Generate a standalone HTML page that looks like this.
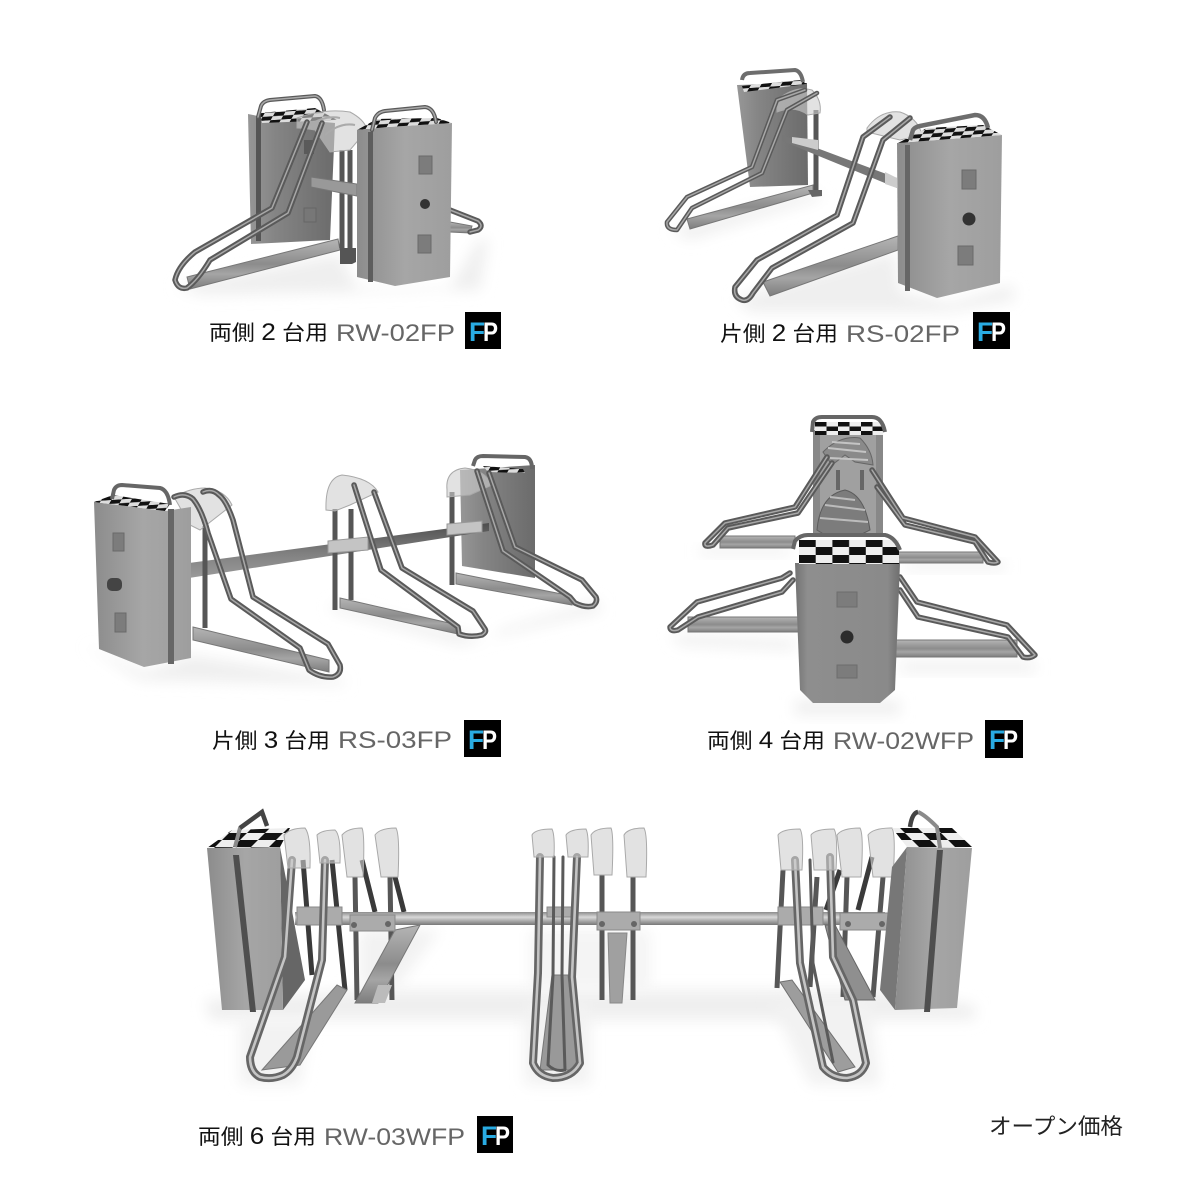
<!DOCTYPE html>
<html lang="ja"><head><meta charset="utf-8"><title>Bicycle racks</title>
<style>
html,body{margin:0;padding:0;background:#fff}
svg{display:block}
.o{fill:none;stroke:#5a5a5a;stroke-width:5.5;stroke-linejoin:round;stroke-linecap:round}
.i{fill:none;stroke:#a8a8a8;stroke-width:1.5;stroke-linejoin:round;stroke-linecap:round}
.o2{fill:none;stroke:#666;stroke-width:8;stroke-linejoin:round;stroke-linecap:round}
.i2{fill:none;stroke:#c4c4c4;stroke-width:2.6;stroke-linejoin:round;stroke-linecap:round}
.jp{font-family:"Liberation Sans","Noto Sans CJK JP",sans-serif;font-size:21px;fill:#111}
.jp tspan{font-size:24px}
.md{font-family:"Liberation Sans",sans-serif;font-size:24px;fill:#666}
.f{font-family:"Liberation Sans",sans-serif;font-size:27px;font-weight:bold;fill:#29abe2}
.p{font-family:"Liberation Sans",sans-serif;font-size:27px;font-weight:bold;fill:#fff}
.cap{fill:#cfcfcf;fill-opacity:.6;stroke:#a9a9a9;stroke-width:1}
.post{stroke:#565656;stroke-width:5;fill:none}
.dark{stroke:#3a3a3a;stroke-width:5;fill:none}
.rail{fill:url(#rg);stroke:#777;stroke-width:1}
.clamp{fill:#ababab;stroke:#8a8a8a;stroke-width:1}
.hole{fill:#7c7c7c;stroke:#6a6a6a}
.sh{fill:#efefef;filter:url(#b)}
</style></head><body>
<svg xmlns="http://www.w3.org/2000/svg" width="1200" height="1200" viewBox="0 0 1200 1200">
<defs>
<filter id="b" x="-30%" y="-60%" width="160%" height="220%"><feGaussianBlur stdDeviation="7"/></filter>
<linearGradient id="rg" x1="0" x2="0" y1="0" y2="1"><stop offset="0" stop-color="#b5b5b5"/><stop offset=".5" stop-color="#8c8c8c"/><stop offset=".7" stop-color="#a5a5a5"/><stop offset="1" stop-color="#7d7d7d"/></linearGradient>
<pattern id="c1" width="20" height="8" patternUnits="userSpaceOnUse" patternTransform="skewX(-30) skewY(-4)"><rect width="20" height="8" fill="#ddd"/><rect width="10" height="4" fill="#111"/><rect x="10" y="4" width="10" height="4" fill="#111"/></pattern>
<pattern id="c2" width="33.4" height="16" patternUnits="userSpaceOnUse" patternTransform="translate(799 539)"><rect width="33.4" height="16" fill="#eee"/><rect width="16.7" height="8" fill="#111"/><rect x="16.7" y="8" width="16.7" height="8" fill="#111"/></pattern>
<pattern id="c3" width="23" height="9" patternUnits="userSpaceOnUse" patternTransform="translate(815 422)"><rect width="23" height="9" fill="#eee"/><rect width="11.5" height="4.5" fill="#111"/><rect x="11.5" y="4.5" width="11.5" height="4.5" fill="#111"/></pattern>
<pattern id="c4" width="36" height="14" patternUnits="userSpaceOnUse" patternTransform="skewX(-45)"><rect width="36" height="14" fill="#eee"/><rect width="18" height="7" fill="#111"/><rect x="18" y="7" width="18" height="7" fill="#111"/></pattern>
<pattern id="c5" width="36" height="14" patternUnits="userSpaceOnUse" patternTransform="skewX(45)"><rect width="36" height="14" fill="#eee"/><rect width="18" height="7" fill="#111"/><rect x="18" y="7" width="18" height="7" fill="#111"/></pattern>
<linearGradient id="g1" x1="0" x2="1" y1="0" y2="0"><stop offset="0" stop-color="#979797"/><stop offset=".3" stop-color="#858585"/><stop offset="1" stop-color="#6b6b6b"/></linearGradient>
<linearGradient id="g2" x1="0" x2="1" y1="0" y2="0"><stop offset="0" stop-color="#8c8c8c"/><stop offset=".5" stop-color="#a6a6a6"/><stop offset="1" stop-color="#9e9e9e"/></linearGradient>
<linearGradient id="g3" x1="0" x2="1" y1="0" y2="0"><stop offset="0" stop-color="#737373"/><stop offset=".12" stop-color="#8e8e8e"/><stop offset=".88" stop-color="#8a8a8a"/><stop offset="1" stop-color="#6e6e6e"/></linearGradient>
<linearGradient id="ax" x1="0" x2="0" y1="0" y2="1"><stop offset="0" stop-color="#8d8d8d"/><stop offset=".4" stop-color="#d8d8d8"/><stop offset="1" stop-color="#777"/></linearGradient>
<linearGradient id="ax2" x1="0" x2="0" y1="0" y2="1"><stop offset="0" stop-color="#4e4e4e"/><stop offset=".55" stop-color="#808080"/><stop offset="1" stop-color="#9a9a9a"/></linearGradient>

<path id="h1a" d="M307 122L272 208L195 252Q178 266 175 280Q178 290 187 288Q198 280 210 260L288 213L322 123"/>
<path id="h1b" d="M450 210L478 221Q484 226 478 230L470 232"/>
<path id="h1h" d="M258 117L261 106Q263 101 270 100L315 96Q322 97 324 110"/>
<path id="h1k" d="M372 130L375 118Q378 112 385 111L425 107Q434 108 436 122"/>
<path id="h2a" d="M910 118L883 140L853 223L772 268L753 293Q748 302 742 300Q733 297 735 287L757 260L837 215L863 137L890 117"/>
<path id="h2b" d="M805 90L777 100L752 167L687 197L667 222Q666 230 677 230L692 208L762 173L787 110L817 93"/>
<path id="h3a" d="M174 497Q185 492 193 499Q202 510 208 533L231 599L300 648L309 670Q320 678 333 677Q342 674 340 665L328 644L253 597L233 520Q226 500 219 495Q212 488 203 492"/>
<path id="h3b" d="M354 485L381 570L458 627L459 634Q470 638 482 635Q487 632 485 629L473 611L402 568L374 492"/>
<path id="h3c" d="M477 471L503 551L570 597L575 603Q585 608 593 606Q598 602 596 597L582 580L515 547L489 473"/>
<path id="h4a" d="M827 457L795 507L725 523L705 543Q704 548 713 545L728 528L798 513L832 463"/>
<path id="h4b" d="M872 470L903 518L975 537L998 562Q995 564 988 562L975 542L905 525L877 487"/>
<path id="h4c" d="M790 573L782 578L697 602L670 627Q670 632 678 630L698 617L782 592L793 580"/>
<path id="h4d" d="M900 577L917 602L1007 625L1035 655Q1030 659 1023 657L1008 637L918 617L900 590"/>
<path id="h5a" d="M292 860L285 957L250 1057Q250 1072 260 1077Q272 1080 283 1075Q292 1070 297 1057L322 960L325 860"/>
<path id="h5b" d="M540 857L538 973L533 1063Q538 1076 553 1078Q572 1078 580 1063L572 977L577 857"/>
<path id="h5c" d="M554 857L553 975L548 1065Q555 1072 565 1070L562 975L563 857"/>
<path id="h5d" d="M795 860L800 963L823 1067Q832 1078 847 1078Q862 1076 866 1063L853 1000L833 957L830 857"/>
<path id="h5e" d="M810 860L813 963L833 1062"/>
</defs>
<rect width="1200" height="1200" fill="#fff"/>

<!-- PANEL 1 -->
<path class="sh" d="M175 286L340 254L357 288L450 288L480 238L488 240L480 290L200 295Z"/>
<path d="M450 222L472 226L470 233L450 232Z" class="rail"/>
<use href="#h1b" class="o"/><use href="#h1b" class="i"/>
<path d="M248 114L258 116L335 123L330 240L251 244Z" fill="url(#g1)"/>
<rect x="256" y="116" width="5" height="125" fill="#555"/>
<rect x="304" y="140" width="10" height="14" fill="#5a5a5a"/><rect x="304" y="208" width="12" height="14" fill="#777" stroke="#666"/>
<path d="M260 113L315 108L337 120L262 123Z" fill="url(#c1)"/>
<use href="#h1h" class="o" style="stroke-width:4"/><use href="#h1h" class="i"/>
<path d="M187 277L338 239L340 250L190 289Z" class="rail"/>
<path class="post" d="M342 150V248M350 150V248"/>
<path d="M340 248H356V262L352 264H340Z" fill="#555"/>
<path d="M311 177L357 184V196L311 187Z" fill="#999" stroke="#777"/>
<path class="cap" d="M297 118Q325 108 350 112Q365 120 367 130L350 150L330 152L315 130Q303 128 297 128Z"/>
<path d="M310 125Q325 115 340 118M325 135Q340 122 355 125" fill="none" stroke="#aaa" stroke-width="2"/>
<use href="#h1a" class="o"/><use href="#h1a" class="i"/>
<path d="M357 130L388 127L452 123L450 277L395 286L357 277Z" fill="url(#g2)"/>
<rect x="368" y="132" width="5" height="150" fill="#5d5d5d"/>
<path d="M357 130L377 119L437 118L452 123L388 127Z" fill="url(#c1)"/>
<use href="#h1k" class="o" style="stroke-width:4"/><use href="#h1k" class="i"/>
<rect x="419" y="156" width="13" height="18" class="hole"/>
<circle cx="425" cy="204" r="5" fill="#333"/>
<rect x="418" y="235" width="13" height="18" class="hole"/>

<!-- PANEL 2 -->
<path class="sh" d="M670 230L810 192L825 197L690 240Z"/>
<path class="sh" d="M735 298L895 252L900 292L950 303L1012 285L1015 300L950 312L750 312Z"/>
<path d="M737 85L807 83L808 185L750 187Z" fill="url(#g1)"/>
<path d="M742 86L800 80L807 84L744 92Z" fill="url(#c1)"/>
<path d="M742 80Q743 73 750 73L795 70Q801 71 803 82" fill="none" stroke="#6d6d6d" stroke-width="4"/>
<path d="M687 219L813 185L813 193L690 229Z" class="rail"/>
<path class="post" d="M816 110V196"/><path d="M808 190H822V196L812 197Z" fill="#666"/>
<path d="M782 135L897 178V188L782 141Z" fill="#777"/>
<path d="M792 137L818 140L818 150L792 143Z" fill="#ccc"/>
<path d="M885 172L897 178V188L885 184Z" fill="#ccc"/>
<path class="cap" d="M777 100Q795 85 812 90Q822 100 820 113L808 115Q795 105 777 112Z"/>
<use href="#h2b" class="o" style="stroke-width:4.5"/><use href="#h2b" class="i"/>
<path d="M763 282L898 236L898 250L770 296Z" class="rail"/>
<path class="cap" d="M867 128Q880 110 900 112Q918 118 922 135L900 140L867 132Z"/>
<use href="#h2a" class="o"/><use href="#h2a" class="i"/>
<path d="M897 143L1002 135L1000 283L937 298L898 283Z" fill="url(#g2)"/>
<rect x="905" y="145" width="5" height="146" fill="#666"/>
<path d="M898 143L927 128L983 125L1002 135Z" fill="url(#c1)"/>
<path d="M910 140L913 130Q915 127 920 126L975 115Q985 115 988 128" fill="none" stroke="#6d6d6d" stroke-width="4.5"/>
<rect x="962" y="170" width="14" height="19" class="hole"/>
<circle cx="969" cy="219" r="6.5" fill="#333"/>
<rect x="958" y="246" width="15" height="19" class="hole"/>

<!-- PANEL 3 -->
<path class="sh" d="M85 645L145 672L192 655L345 680L345 685L140 680Z"/>
<path class="sh" d="M335 603L490 640L500 630L600 600L600 612L460 645L330 610Z"/>
<path d="M460 470L535 465L535 578L462 566Z" fill="url(#g1)"/>
<path d="M483 466L523 469L525 473L488 472Z" fill="url(#c1)"/>
<path d="M473 466L475 460Q477 456 483 456L525 457Q532 458 532 469" fill="none" stroke="#666" stroke-width="4"/>
<path d="M456 573L572 596L572 605L456 584Z" class="rail"/>
<path class="post" d="M452 492V585"/>
<path class="cap" d="M447 490Q445 470 465 468Q485 470 492 485L470 495L447 497Z"/>
<use href="#h3c" class="o"/><use href="#h3c" class="i"/>
<path d="M189 563L489 523L489 531L189 578Z" fill="url(#ax2)"/>
<path d="M447 524L482 521L482 532L447 535Z" fill="#c4c4c4" stroke="#999"/>
<path class="post" d="M335 509V610M351 509V600"/>
<path d="M340 598L458 625L458 634L340 608Z" class="rail"/>
<path d="M328 541L368 537V550L328 553Z" fill="#c4c4c4" stroke="#999"/>
<path class="cap" d="M326 510Q325 478 342 475Q370 478 378 492L350 505L335 511Z"/>
<use href="#h3b" class="o"/><use href="#h3b" class="i"/>
<path class="post" d="M205 526V628"/>
<path d="M193 627L329 660L329 672L193 640Z" class="rail"/>
<path class="cap" d="M174 497Q190 488 205 488Q225 490 232 505L200 530L190 525Z"/>
<use href="#h3a" class="o"/><use href="#h3a" class="i"/>
<path d="M94 502L165 511L191 507L191 658L144 667L99 649Z" fill="url(#g2)"/>
<rect x="168" y="509" width="6" height="155" fill="#666"/>
<path d="M94 502L113 495L170 504L165 511Z" fill="url(#c1)"/>
<path d="M112 499L114 490Q116 485 122 485L160 488Q168 490 170 505" fill="none" stroke="#666" stroke-width="4"/>
<rect x="113" y="533" width="11" height="18" class="hole"/>
<rect x="115" y="613" width="11" height="19" class="hole"/>
<rect x="107" y="578" width="15" height="13" rx="5" fill="#444"/>

<!-- PANEL 4 -->
<path class="sh" d="M700 547H790V555H700Z"/><path class="sh" d="M905 562H1005V570H905Z"/>
<path class="sh" d="M670 634L795 640V650L680 645Z"/><path class="sh" d="M900 662L1035 662V672L900 672Z"/>
<path class="sh" d="M795 700H900V715H795Z"/>
<rect x="813" y="430" width="70" height="105" fill="#888"/>
<rect x="820" y="434" width="56" height="100" fill="#a0a0a0"/>
<rect x="815" y="422" width="68" height="13" fill="url(#c3)"/>
<path d="M812 432L813 422Q815 417 822 417H872Q882 417 885 432" fill="none" stroke="#666" stroke-width="4"/>
<path d="M838 470V490M862 470V490" stroke="#666" stroke-width="4"/>
<path d="M720 536H795V548H720Z" class="rail"/><path d="M898 552H983V563H898Z" class="rail"/>
<path d="M823 452Q840 435 860 438Q872 450 873 465L855 462L845 455L832 465Z" fill="#8a8a8a" stroke="#666"/>
<path d="M828 448L866 452M830 458L868 460M832 442L860 444" stroke="#c4c4c4" stroke-width="2"/>
<path d="M817 530Q820 495 845 490Q865 495 870 530L860 535H825Z" fill="#7c7c7c" stroke="#5c5c5c"/>
<path d="M825 505L865 510M820 518L868 522M830 497L855 500" stroke="#bcbcbc" stroke-width="2"/>
<use href="#h4a" class="o"/><use href="#h4a" class="i"/>
<use href="#h4b" class="o"/><use href="#h4b" class="i"/>
<path d="M688 617H800V632H688Z" class="rail"/><path d="M895 640H1017V657H895Z" class="rail"/>
<use href="#h4c" class="o"/><use href="#h4c" class="i"/>
<use href="#h4d" class="o"/><use href="#h4d" class="i"/>
<path d="M795 563H900L895 690L880 703H813L800 690Z" fill="url(#g3)"/>
<rect x="799" y="540" width="100" height="24" fill="url(#c2)"/>
<path d="M793 549L795 541Q800 535 808 535H885Q895 537 900 550" fill="none" stroke="#666" stroke-width="4"/>
<rect x="837" y="592" width="20" height="15" fill="#7c7c7c" stroke="#6d6d6d"/>
<circle cx="847" cy="637" r="6.5" fill="#2c2c2c"/>
<rect x="837" y="665" width="20" height="13" fill="#7c7c7c" stroke="#6d6d6d"/>

<!-- PANEL 5 -->
<path class="sh" d="M205 1000L360 990H880L975 1005L975 1020H340L210 1020Z"/>
<path class="sh" d="M360 930L440 930L395 990L360 985Z" style="fill:#f2f2f2"/>
<path class="sh" d="M530 930L650 930L650 990H530Z" style="fill:#f4f4f4"/>
<path class="sh" d="M240 1020L310 1020L300 1085L240 1085Z" style="fill:#f2f2f2"/>
<path class="sh" d="M525 1000L590 1000L590 1085H525Z" style="fill:#f2f2f2"/>
<path class="sh" d="M770 1000L870 1000L880 1085H810Z" style="fill:#f2f2f2"/>
<!-- back posts -->
<path class="dark" d="M303 860L312 975M332 860L345 990M362 860L375 912M395 877L404 912"/>
<path class="post" d="M355 877L357 1000M390 877L392 1000"/>
<path d="M395 930L420 925L378 1003L355 1003Z" class="rail"/>
<path d="M372 1003H385L392 985H378Z" fill="#bbb"/>
<path d="M337 985L347 990L300 1065L262 1070Z" fill="#9a9a9a" stroke="#777"/>
<!-- left block -->
<path d="M280 847L305 980L283 1010Z" fill="#666"/>
<path d="M207 848L280 847L283 1010L222 1010Z" fill="url(#g2)"/>
<path d="M233 855L239 855L256 1012L250 1012Z" fill="#4f4f4f"/>
<path d="M207 848L232 830L290 828L280 847Z" fill="url(#c4)"/>
<path d="M235 847L240 828L262 812" fill="none" stroke="#8a8a8a" stroke-width="4"/>
<path d="M240 828L262 812L267 826" fill="none" stroke="#444" stroke-width="4.5"/>
<rect x="295" y="912" width="590" height="13" fill="url(#ax)"/>
<rect x="297" y="907" width="45" height="18" class="clamp"/>
<rect x="350" y="915" width="45" height="16" class="clamp"/>
<circle cx="354" cy="925" r="3" fill="#666"/><circle cx="388" cy="924" r="3" fill="#666"/>
<use href="#h5a" class="o2"/><use href="#h5a" class="i2"/>
<!-- left caps -->
<path class="cap" d="M284 835Q290 828 305 828Q311 835 310 868H288Z"/>
<path class="cap" d="M317 835Q322 830 335 830Q341 835 340 863H320Z"/>
<path class="cap" d="M342 835Q348 828 362 828Q365 835 363 877H347Z"/>
<path class="cap" d="M375 835Q380 828 396 828Q400 835 398 877H381Z"/>
<!-- middle -->
<path d="M552 975H568L578 1070H540Z" fill="#999" stroke="#777"/>
<path d="M608 933H627L622 1003H610Z" fill="#a0a0a0" stroke="#888"/>
<path class="post" d="M602 875V1000M633 877V1000"/>
<rect x="597" y="912" width="43" height="18" class="clamp"/>
<circle cx="602" cy="924" r="3" fill="#666"/><circle cx="634" cy="924" r="3" fill="#666"/>
<rect x="547" y="907" width="26" height="10" class="clamp"/>
<use href="#h5b" class="o2"/><use href="#h5b" class="i2"/>
<use href="#h5c" class="o" style="stroke-width:3"/>
<path class="cap" d="M532 835Q535 829 552 829Q555 835 554 857H534Z"/>
<path class="cap" d="M566 835Q570 829 586 829Q589 835 588 857H568Z"/>
<path class="cap" d="M591 835Q595 828 611 828Q614 835 612 875H594Z"/>
<path class="cap" d="M624 835Q628 828 644 828Q648 835 646 877H627Z"/>
<!-- right -->
<path class="post" d="M783 870L777 988M817 877L810 987M847 877L843 997M883 877L873 997"/>
<path class="dark" d="M840 870L826 910M872 857L858 910" style="stroke-width:5"/>
<path d="M780 982L792 980L855 1067L838 1072Z" fill="#9d9d9d" stroke="#707070"/>
<path d="M825 925L835 925L875 1000L845 1000Z" fill="#8f8f8f" stroke="#666"/>
<rect x="778" y="907" width="45" height="18" class="clamp"/>
<rect x="840" y="913" width="50" height="17" class="clamp"/>
<circle cx="848" cy="924" r="3" fill="#666"/><circle cx="882" cy="924" r="3" fill="#666"/>
<use href="#h5d" class="o2"/><use href="#h5d" class="i2"/>
<use href="#h5e" class="o" style="stroke-width:3"/>
<path class="cap" d="M778 835Q782 829 800 829Q804 835 802 870H781Z"/>
<path class="cap" d="M811 835Q815 829 834 829Q838 835 836 870H814Z"/>
<path class="cap" d="M837 835Q842 828 860 828Q864 835 861 877H842Z"/>
<path class="cap" d="M868 835Q873 828 892 828Q896 835 893 877H873Z"/>
<!-- right block -->
<path d="M907 847L895 1010L880 990L892 867Z" fill="#777"/>
<path d="M907 847L972 848L957 1008L895 1010Z" fill="url(#g2)"/>
<path d="M937 850L943 850L930 1012L924 1012Z" fill="#4f4f4f"/>
<path d="M892 828L952 828L972 847L907 847Z" fill="url(#c5)"/>
<path d="M940 848L937 827Q925 815 918 812" fill="none" stroke="#8a8a8a" stroke-width="4"/>
<path d="M918 812Q912 813 910 827" fill="none" stroke="#444" stroke-width="4.5"/>

<!-- LABELS -->
<text class="jp" x="209" y="340" textLength="119" lengthAdjust="spacingAndGlyphs">両側 <tspan>2</tspan> 台用</text>
<text class="md" x="336" y="341" textLength="119" lengthAdjust="spacingAndGlyphs">RW-02FP</text>
<rect x="465" y="312" width="36" height="37" fill="#000"/>
<text class="f" x="469" y="341" textLength="16" lengthAdjust="spacingAndGlyphs">F</text><text class="p" x="483" y="341" textLength="15" lengthAdjust="spacingAndGlyphs">P</text>

<text class="jp" x="720" y="341" textLength="118" lengthAdjust="spacingAndGlyphs">片側 <tspan>2</tspan> 台用</text>
<text class="md" x="846" y="342" textLength="114" lengthAdjust="spacingAndGlyphs">RS-02FP</text>
<rect x="973" y="312" width="37" height="37" fill="#000"/>
<text class="f" x="977" y="341" textLength="16" lengthAdjust="spacingAndGlyphs">F</text><text class="p" x="991" y="341" textLength="15" lengthAdjust="spacingAndGlyphs">P</text>

<text class="jp" x="212" y="748" textLength="118" lengthAdjust="spacingAndGlyphs">片側 <tspan>3</tspan> 台用</text>
<text class="md" x="338" y="748" textLength="114" lengthAdjust="spacingAndGlyphs">RS-03FP</text>
<rect x="464" y="720" width="37" height="37" fill="#000"/>
<text class="f" x="468" y="749" textLength="16" lengthAdjust="spacingAndGlyphs">F</text><text class="p" x="482" y="749" textLength="15" lengthAdjust="spacingAndGlyphs">P</text>

<text class="jp" x="707" y="748" textLength="118" lengthAdjust="spacingAndGlyphs">両側 <tspan>4</tspan> 台用</text>
<text class="md" x="833" y="749" textLength="141" lengthAdjust="spacingAndGlyphs">RW-02WFP</text>
<rect x="985" y="720" width="38" height="38" fill="#000"/>
<text class="f" x="989" y="749" textLength="16" lengthAdjust="spacingAndGlyphs">F</text><text class="p" x="1003" y="749" textLength="15" lengthAdjust="spacingAndGlyphs">P</text>

<text class="jp" x="198" y="1144" textLength="118" lengthAdjust="spacingAndGlyphs">両側 <tspan>6</tspan> 台用</text>
<text class="md" x="324" y="1145" textLength="141" lengthAdjust="spacingAndGlyphs">RW-03WFP</text>
<rect x="477" y="1116" width="36" height="37" fill="#000"/>
<text class="f" x="481" y="1145" textLength="16" lengthAdjust="spacingAndGlyphs">F</text><text class="p" x="495" y="1145" textLength="15" lengthAdjust="spacingAndGlyphs">P</text>

<text class="jp" x="989" y="1134" textLength="134" lengthAdjust="spacingAndGlyphs" style="font-size:22px;fill:#222">オープン価格</text>
</svg>
</body></html>
